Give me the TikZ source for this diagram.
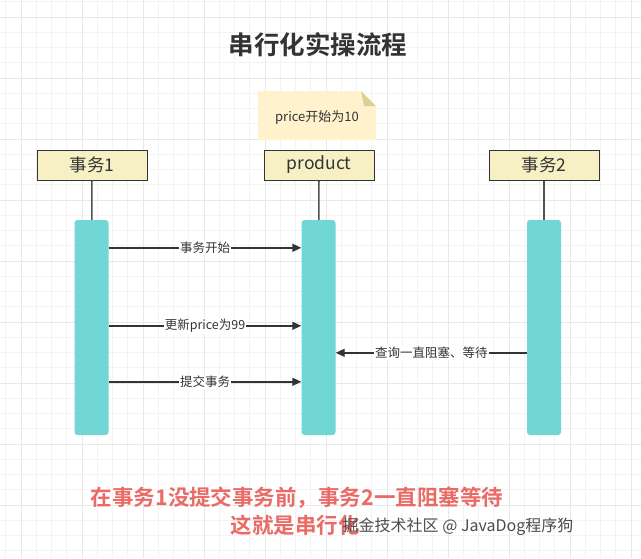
\documentclass[tikz,border=0pt]{standalone}
\usepackage{fontspec}
\setmainfont{Noto Sans CJK SC}[BoldFont={Noto Sans CJK SC Bold}]
\usepackage{tikz}
\usetikzlibrary{calc, positioning, arrows.meta}
\usepackage{xcolor}
\definecolor{gridMinor}{RGB}{243, 243, 243}
\definecolor{gridMajor}{RGB}{232, 232, 232}
\definecolor{headFill}{RGB}{247, 240, 196}
\definecolor{noteFill}{RGB}{255, 242, 204}
\definecolor{noteFold}{RGB}{222, 207, 146}
\definecolor{barFill}{RGB}{112, 214, 214}
\definecolor{lineDark}{RGB}{51, 51, 51}
\definecolor{warnRed}{RGB}{234, 107, 102}

\tikzset{
  head/.style={draw=lineDark, line width=1pt, fill=headFill, minimum width=110pt,
    minimum height=30pt, inner sep=0pt, font=\fontsize{17.5}{17.5}\selectfont, text=lineDark},
  bar/.style={fill=barFill, rounded corners=3pt, minimum width=34pt,
    minimum height=215pt, inner sep=0pt},
  life/.style={draw=lineDark!85, line width=1.6pt},
  msg/.style={draw=lineDark, line width=1.4pt, -{Triangle[length=9pt, width=8pt]}},
  lbl/.style={fill=white, inner sep=1pt, text=lineDark, font=\fontsize{12.5}{12.5}\selectfont},
}

\begin{document}
\begin{tikzpicture}[x=1pt, y=-1pt]
  \useasboundingbox (0,0) rectangle (641,558);
  \fill[white] (0,0) rectangle (641,558);

  % grid
  \foreach \k in {-1,...,42}
    \draw[gridMinor, line width=0.8pt] ({21+15.25*\k},0) -- ({21+15.25*\k},558);
  \foreach \k in {-1,...,36}
    \draw[gridMinor, line width=0.8pt] (0,{17+15.25*\k}) -- (641,{17+15.25*\k});
  \foreach \k in {0,...,10}
    \draw[gridMajor, line width=1pt] ({21+61*\k},0) -- ({21+61*\k},558);
  \foreach \k in {0,...,9}
    \draw[gridMajor, line width=1pt] (0,{17+61*\k}) -- (641,{17+61*\k});

  % title
  \node[font=\bfseries\fontsize{25.5}{25.5}\selectfont, text=lineDark] (title) at (318,45) {串行化实操流程};

  % note
  \fill[noteFill] (258,91) -- (361,91) -- (376,106) -- (376,140) -- (258,140) -- cycle;
  \fill[noteFold] (361,91) -- (376,106) -- (364,106) -- cycle;
  \node[text=lineDark, font=\fontsize{13}{13}\selectfont] (note) at (317,118) {price开始为10};

  % heads
  \node[head] (h1) at (92,165) {事务1};
  \node[head] (hp) at (319,165) {product};
  \node[head] (h2) at (544,165) {事务2};

  % activations
  \node[bar] (act1) at (91.5,327.5) {};
  \node[bar] (actp) at (318.5,327.5) {};
  \node[bar] (act2) at (544,327.5) {};
  \draw[life] (h1) -- (act1);
  \draw[life] (hp) -- (actp);
  \draw[life] (h2) -- (act2);

  % messages
  \draw[msg] ([yshift=-28pt]act1.north east) -- ([yshift=-28pt]actp.north west)
    node[midway, lbl] {事务开始};
  \draw[msg] ([yshift=-106pt]act1.north east) -- ([yshift=-106pt]actp.north west)
    node[midway, lbl] {更新price为99};
  \draw[msg] ([yshift=-162pt]act1.north east) -- ([yshift=-162pt]actp.north west)
    node[midway, lbl] {提交事务};
  \draw[msg] ([yshift=-133pt]act2.north west) -- ([yshift=-133pt]actp.north east)
    node[midway, lbl] {查询一直阻塞、等待};

  % conclusion
  \node[font=\bfseries\fontsize{21.5}{21.5}\selectfont, text=warnRed] (sum1) at (297,498)
    {在事务1没提交事务前，事务2一直阻塞等待};
  \node[font=\bfseries\fontsize{21.5}{21.5}\selectfont, text=warnRed] (sum2) at (295,525)
    {这就是串行化};
  \node[font=\fontsize{16}{16}\selectfont, text=black!70] (mark) at (458,527)
    {掘金技术社区 @ JavaDog程序狗};
\end{tikzpicture}
\end{document}
